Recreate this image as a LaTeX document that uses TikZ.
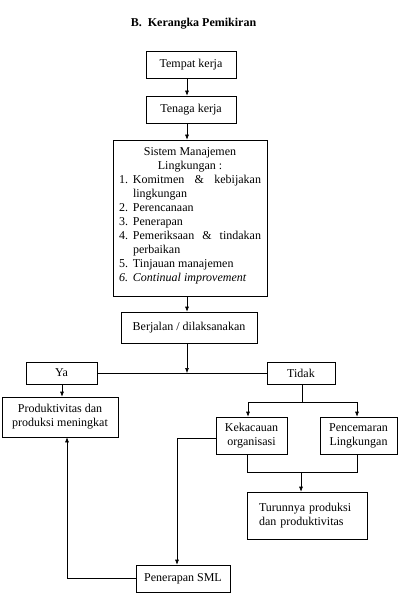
\documentclass[tikz,border=0pt]{standalone}
\usepackage{fontspec}
\setmainfont{Liberation Serif}
\usetikzlibrary{arrows.meta}
\newcommand\smlitem[2]{\par\noindent\hangindent=14pt\hangafter=1\makebox[14pt][l]{#1}#2\par}
\begin{document}
\begin{tikzpicture}[x=1pt,y=-1pt,
 box/.style={draw, line width=0.6pt, inner sep=0pt, align=center, font=\fontsize{12}{14}\selectfont},
 conn/.style={line width=0.6pt},
 arr/.style={conn, -{Latex[length=5pt,width=4pt]}}]
\useasboundingbox (0,0) rectangle (404,604);
\node[font=\fontsize{12}{14}\selectfont\bfseries] (title) at (193.5,24) {B.\ \ Kerangka Pemikiran};
\node[box, minimum width=90pt, minimum height=27pt] (tempat) at (191,64.5) {Tempat kerja};
\node[box, minimum width=90pt, minimum height=27pt] (tenaga) at (191,109.5) {Tenaga kerja};
\node[box, minimum width=154pt, minimum height=156pt] (sml) at (190,218) {\parbox[c][156pt][t]{142pt}{\tolerance=9999\hyphenpenalty=10000\vspace*{8pt}{\centering Sistem Manajemen\\Lingkungan :\par}
\smlitem{1.}{Komitmen \& kebijakan lingkungan}
\smlitem{2.}{Perencanaan}
\smlitem{3.}{Penerapan}
\smlitem{4.}{Pemeriksaan \& tindakan perbaikan}
\smlitem{5.}{Tinjauan manajemen}
\smlitem{\textit{6.}}{\textit{Continual improvement}}}};
\node[box, minimum width=136pt, minimum height=31pt] (berjalan) at (189,327.5) {Berjalan / dilaksanakan};
\node[box, minimum width=71pt, minimum height=22pt] (ya) at (61.5,373) {Ya};
\node[box, minimum width=68pt, minimum height=22pt] (tidak) at (301,373) {Tidak};
\node[box, minimum width=116pt, minimum height=40pt] (prod) at (60,417) {Produktivitas dan\\produksi meningkat};
\node[box, minimum width=71pt, minimum height=37pt] (kek) at (251.5,435.5) {Kekacauan\\organisasi};
\node[box, minimum width=77pt, minimum height=37pt] (pen) at (358.5,435.5) {Pencemaran\\Lingkungan};
\node[box, align=left, text width=96pt, inner xsep=12pt, minimum height=47pt] (turun) at (307,515.5) {Turunnya produksi\\dan produktivitas};
\node[box, minimum width=94pt, minimum height=27pt] (sml2) at (183,578.5) {Penerapan SML};
% connectors
\coordinate (ax) at (187,0);
\draw[arr] (tempat.south -| ax) -- (tenaga.north -| ax);
\draw[arr] (tenaga.south -| ax) -- (sml.north -| ax);
\draw[arr] (sml.south -| ax) -- (berjalan.north -| ax);
\draw[conn] (ya.east) -- (tidak.west);
\draw[arr] (berjalan.south -| ax) -- (ax |- ya.east);
\coordinate (yx) at (62,0);
\draw[arr] (ya.south -| yx) -- (prod.north -| yx);
\coordinate (tj) at (302,402);
\coordinate (kx) at (248,402);
\coordinate (px) at (357,402);
\draw[conn] (tidak.south -| tj) -- (tj);
\draw[conn] (kx) -- (px);
\draw[arr] (kx) -- (kx |- kek.north);
\draw[arr] (px) -- (px |- pen.north);
\coordinate (kl) at (177,438);
\draw[arr] (kek.west |- kl) -- (kl) -- (kl |- sml2.north);
\coordinate (pl) at (67,0);
\draw[arr] (sml2.west) -- (sml2.west -| pl) -- (pl |- prod.south);
\coordinate (kb) at (247,472);
\coordinate (pb) at (357,472);
\coordinate (bj) at (301,472);
\draw[conn] (kb |- kek.south) -- (kb) -- (pb) -- (pb |- pen.south);
\draw[arr] (bj) -- (bj |- turun.north);
\end{tikzpicture}
\end{document}
